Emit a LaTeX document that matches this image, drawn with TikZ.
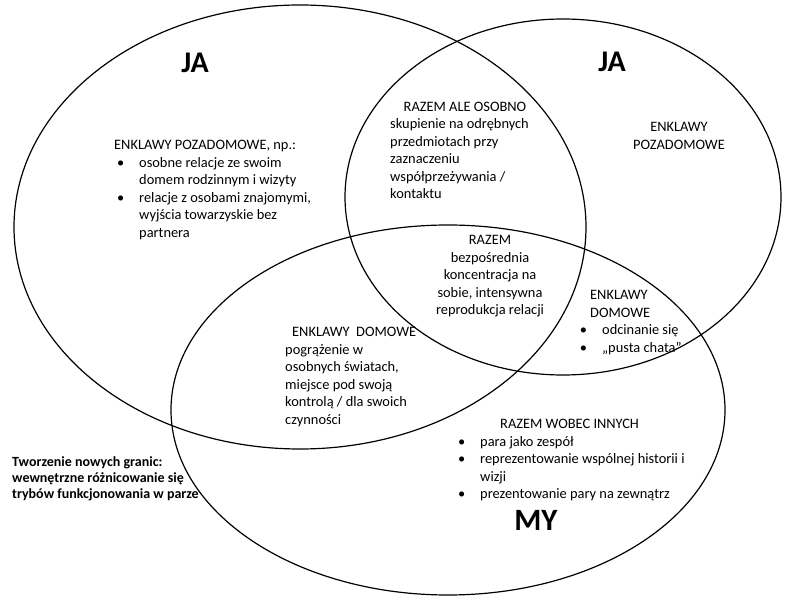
\documentclass[tikz,border=0pt]{standalone}
\usepackage{fontspec}
\setmainfont{Carlito}
\newcommand{\bl}[2]{\hspace*{#1}\makebox[#2][l]{\textbullet}}
\begin{document}
\begin{tikzpicture}[x=1pt,y=-1pt,
  ring/.style={draw=black,line width=1.2pt},
  big/.style={font=\fontsize{30}{36}\selectfont\bfseries,inner sep=0pt},
  txt/.style={font=\fontsize{14.4}{17.5}\selectfont,inner sep=0pt,align=left,anchor=north west},
  ctxt/.style={font=\fontsize{14.4}{17.5}\selectfont,inner sep=0pt,align=center,anchor=north},
  btxt/.style={font=\fontsize{14}{16}\selectfont\bfseries,inner sep=0pt,align=left,anchor=north west}]
\useasboundingbox (0,0) rectangle (793,601);
\fill[white] (0,0) rectangle (793,601);
% circles
\draw[ring] (300,227) ellipse [x radius=286pt, y radius=222pt];
\draw[ring] (563,197) ellipse [x radius=218pt, y radius=178pt];
\draw[ring] (448,410) ellipse [x radius=277pt, y radius=185pt];
% big labels
\node[big] (ja1) at (195,63) {JA};
\node[big] (ja2) at (612,62) {JA};
\node[big,font=\fontsize{31}{36}\selectfont\bfseries] (my) at (536,520) {MY};
% left: enklawy pozadomowe
\node[txt] (pozL) at (114,137.25) {\strut ENKLAWY POZADOMOWE, np.:\\
\bl{3pt}{22pt}osobne relacje ze swoim\\
\hspace*{25pt}domem rodzinnym i wizyty\\
\bl{3pt}{22pt}relacje z osobami znajomymi,\\
\hspace*{25pt}wyjścia towarzyskie bez\\
\hspace*{25pt}partnera};
% razem ale osobno
\node[ctxt] (rao) at (465,98.75) {\strut RAZEM ALE OSOBNO};
\node[txt] (raob) at (390,116.25) {\strut skupienie na odrębnych\\
przedmiotach przy\\
zaznaczeniu\\
współprzeżywania /\\
kontaktu};
% right: enklawy pozadomowe
\node[ctxt] (pozR) at (679,119.25) {\strut ENKLAWY\\POZADOMOWE};
% centre: razem
\node[ctxt] (razem) at (490,232.25) {\strut RAZEM\\
bezpośrednia\\
koncentracja na\\
sobie, intensywna\\
reprodukcja relacji};
% right: enklawy domowe
\node[txt] (domR) at (578,287.25) {\strut\hspace*{12pt}ENKLAWY\\
\hspace*{12pt}DOMOWE\\
\bl{1.6pt}{22.4pt}odcinanie się\\
\bl{1.6pt}{22.4pt}„pusta chata”};
% left: enklawy domowe
\node[txt] (domL) at (285,324.25) {\strut\hspace*{7pt}ENKLAWY\ \ DOMOWE\\
pogrążenie w\\
osobnych światach,\\
miejsce pod swoją\\
kontrolą / dla swoich\\
czynności};
% razem wobec innych
\node[txt] (rwi) at (455,416.25) {\strut\hspace*{45pt}RAZEM WOBEC INNYCH\\
\bl{3pt}{22pt}para jako zespół\\
\bl{3pt}{22pt}reprezentowanie wspólnej historii i\\
\hspace*{25pt}wizji\\
\bl{3pt}{22pt}prezentowanie pary na zewnątrz};
% bottom-left caption
\node[btxt] (cap) at (12,455.3) {\strut Tworzenie nowych granic:\\
wewnętrzne różnicowanie się\\
trybów funkcjonowania w parze};
\end{tikzpicture}
\end{document}
